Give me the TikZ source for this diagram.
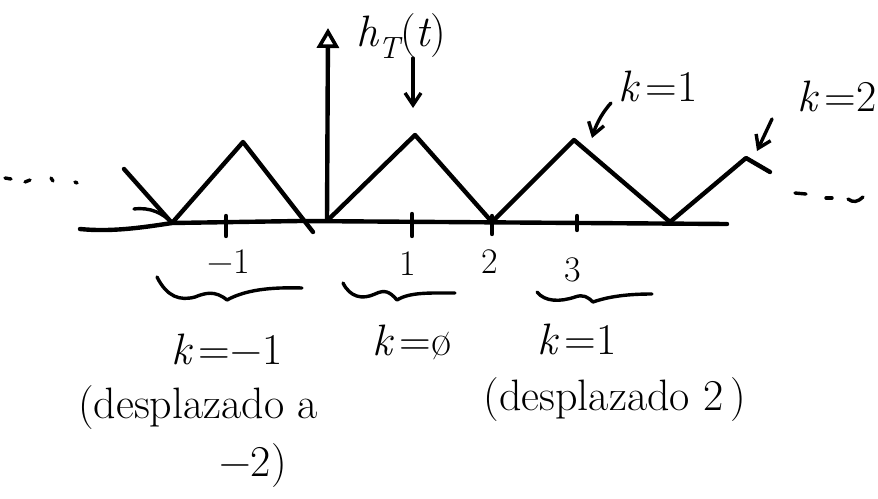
\documentclass[tikz,border=0pt]{standalone}
\usepackage{fontspec}
\usetikzlibrary{arrows.meta}
\newcommand{\vv}[1]{{\itshape #1}}
\begin{document}
\begin{tikzpicture}[x=1pt,y=-1pt,line cap=round,line join=round,
  >={Straight Barb[length=12pt,width=16pt]},
  stroke/.style={line width=4.4pt},
  pen/.style={line width=3.4pt},
  lbl/.style={inner sep=0pt,font=\fontsize{44}{48}\selectfont},
  ticklbl/.style={inner sep=0pt,font=\fontsize{36}{40}\selectfont},
  notelbl/.style={inner sep=0pt,font=\fontsize{44}{48}\selectfont}]
\useasboundingbox (0,0) rectangle (878,498);
% axis
\coordinate (ax0) at (80,229);
\coordinate (ax1) at (727,224);
\coordinate (yb) at (327,220);
\coordinate (ytop) at (328,28);
% triangle wave
\coordinate (a0) at (124,169);
\coordinate (v1) at (172,223);
\coordinate (p1) at (243,142);
\coordinate (e1) at (313,232);
\coordinate (v2) at (330,218);
\coordinate (p2) at (415,135);
\coordinate (v3) at (492,222);
\coordinate (p3) at (574,140);
\coordinate (v4) at (670,222);
\coordinate (p4) at (746,158);
\coordinate (p4e) at (770,172);
\coordinate (hk) at (134,209);
\draw[stroke] (ax0) .. controls (110,232) and (140,228) .. (v1) -- (300,221) -- (ax1);
\draw[stroke,-{Triangle[open,length=20pt,width=22pt,line width=3.6pt]}] (yb) -- (ytop);
\draw[stroke] (a0) -- (v1) -- (p1) -- (e1);
\draw[stroke] (v2) -- (p2) -- (v3) -- (p3) -- (v4) -- (p4) -- (p4e);
\draw[pen] (hk) .. controls (150,207) and (163,213) .. (v1);
% ticks
\draw[stroke] (226,216) -- ++(0,20);
\draw[stroke] (412,214) -- ++(0,22);
\draw[stroke] (492,216) -- ++(0,18);
\draw[stroke] (577,216) -- ++(0,14);
% dots
\draw[pen] (5,178) -- (11,179);
\draw[pen] (25,182) -- (30,180);
\draw[pen] (51,178) -- (53,181);
\draw[pen] (75,182) -- (77,183);
\draw[pen] (795,193) -- (806,194);
\draw[pen] (826,198) -- (832,198);
\draw[pen] (848,199) .. controls (853,203) and (858,202) .. (863,197);
% labels on top
\node[lbl] (hlabel) at (401,36) {\vv{h}\textsubscript{\vv{T}}(\vv{t})};
\coordinate (hs) at (413,58);
\coordinate (hd) at (413,108);
\draw[pen,->] (hs) -- (hd);
\node[lbl] (kone) at (658,86) {\vv{k}\,=1};
\coordinate (k1s) at (611,103);
\coordinate (k1d) at (592,138);
\draw[pen,->] (k1s) .. controls (600,115) and (595,128) .. (k1d);
\node[lbl] (ktwo) at (837,96) {\vv{k}\,=2};
\coordinate (k2s) at (772,119);
\coordinate (k2d) at (757,151);
\draw[pen,->] (k2s) -- (k2d);
% tick labels
\node[ticklbl] (tm1) at (229,262) {−1};
\node[ticklbl] (t1) at (408,264) {1};
\node[ticklbl] (t2) at (490,262) {2};
\node[ticklbl] (t3) at (573,270) {3};
% braces
\draw[pen] (157,277) .. controls (167,297) and (180,301) .. (195,297)
  .. controls (205,293) and (215,290) .. (227,300)
  .. controls (245,290) and (270,287) .. (302,288);
\draw[pen] (343,283) .. controls (350,297) and (362,300) .. (375,294)
  .. controls (385,289) and (390,292) .. (397,300)
  .. controls (410,292) and (430,293) .. (455,293);
\draw[pen] (537,292) .. controls (545,302) and (560,302) .. (575,297)
  .. controls (583,294) and (588,297) .. (593,302)
  .. controls (610,296) and (630,294) .. (652,294);
% k labels
\node[lbl] (kml) at (227,349) {\vv{k}\,=−1};
\node[lbl] (kzl) at (412,342) {\vv{k}\,=ø};
\node[lbl] (kpl) at (577,339) {\vv{k}\,=1};
\node[notelbl] (dma) at (198,408) {(desplazado a};
\node[notelbl] (dmb) at (253,466) {−2)};
\node[notelbl] (dp) at (615,400) {(desplazado 2\,)};
\end{tikzpicture}
\end{document}
